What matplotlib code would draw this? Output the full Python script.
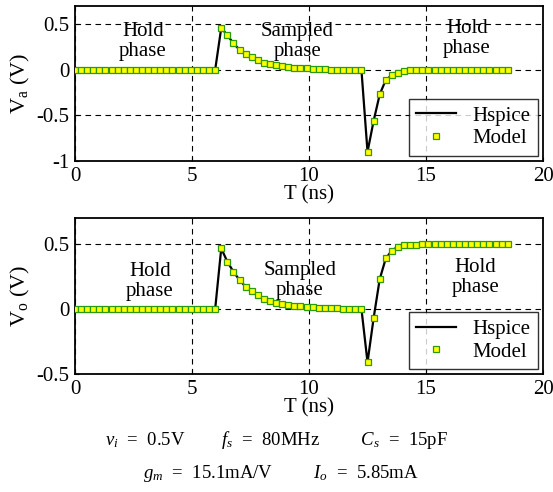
import numpy as np
import matplotlib
matplotlib.use('Agg')
import matplotlib.pyplot as plt

plt.rcParams['font.family'] = ['Liberation Serif', 'DejaVu Serif']
plt.rcParams['mathtext.fontset'] = 'custom'
plt.rcParams['mathtext.rm'] = 'Liberation Serif'
plt.rcParams['mathtext.it'] = 'Liberation Serif:italic'

# time step: half period (6.25 ns) split in 24 samples
step = 12.5 / 48
t = np.arange(72) * step

va = [0.0] * 24 + [0.46, 0.38, 0.29, 0.22, 0.17, 0.14, 0.11, 0.08, 0.06, 0.05,
                   0.04, 0.03, 0.025, 0.02, 0.015, 0.012, 0.01, 0.005,
                   0.003, 0.002, 0.001, 0.0, 0.0, 0.0,
                   -0.90, -0.56, -0.27, -0.11, -0.06, -0.03, -0.01] + [0.0] * 17

vo = [0.0] * 24 + [0.467, 0.364, 0.287, 0.223, 0.172, 0.136, 0.105, 0.08, 0.062, 0.05,
                   0.04, 0.032, 0.025, 0.02, 0.016, 0.013, 0.01, 0.008,
                   0.006, 0.005, 0.004, 0.003, 0.002, 0.002,
                   -0.41, -0.07, 0.23, 0.39, 0.45, 0.48, 0.49,
                   0.493, 0.495, 0.497] + [0.5] * 14

fig = plt.figure(figsize=(5.53, 4.92), dpi=100)
ax1 = fig.add_axes([0.1356, 0.6728, 0.8464, 0.315])
ax2 = fig.add_axes([0.1356, 0.2398, 0.8464, 0.317])

def style(ax, y, ylim, yticks, ylab, labels):
    ax.plot(t, y, color='black', lw=1.6, label='Hspice', zorder=3)
    ax.plot(t, y, ls='none', marker='s', ms=4.5, mfc='#ffff00', mec='#2a9a10',
            mew=0.9, label='Model', zorder=4)
    ax.set_xlim(0, 20)
    ax.set_ylim(*ylim)
    ax.set_xticks([0, 5, 10, 15, 20])
    ax.set_yticks(yticks)
    ax.set_yticklabels(['%g' % v for v in yticks])
    ax.grid(True, color='black', ls=(0, (5, 4)), lw=0.8)
    ax.tick_params(direction='in', length=3, labelsize=15, pad=4)
    for s in ax.spines.values():
        s.set_linewidth(1.3)
    ax.set_xlabel('T (ns)', fontsize=15, labelpad=0)
    ax.set_ylabel(ylab, fontsize=16, labelpad=3)
    for x, yy, txt in labels:
        ax.text(x, yy, txt, ha='center', va='center', fontsize=15, linespacing=1.05)
    leg = ax.legend(loc='lower right', fontsize=15, frameon=True, fancybox=False,
                    edgecolor='black', borderaxespad=0.25, handlelength=1.9,
                    borderpad=0.35, labelspacing=0.15, handletextpad=0.8)
    leg.get_frame().set_linewidth(1.0)

style(ax1, va, (-1, 0.7), [-1, -0.5, 0, 0.5], r'V$_\mathregular{a}$ (V)',
      [(2.9, 0.31, 'Hold\nphase'), (9.5, 0.31, 'Sampled\nphase'), (16.75, 0.34, 'Hold\nphase')])
style(ax2, vo, (-0.5, 0.7), [-0.5, 0, 0.5], r'V$_\mathregular{o}$ (V)',
      [(3.2, 0.21, 'Hold\nphase'), (9.6, 0.22, 'Sampled\nphase'), (17.1, 0.24, 'Hold\nphase')])

fig.text(0.5, 0.106, r'$v_i$  =  0.5V        $f_s$  =  80MHz         $C_s$  =  15pF',
         ha='center', va='center', fontsize=13.5)
fig.text(0.508, 0.038, r'$g_m$  =  15.1mA/V         $I_o$  =  5.85mA',
         ha='center', va='center', fontsize=13.5)

fig.savefig('out.png', dpi=100)
